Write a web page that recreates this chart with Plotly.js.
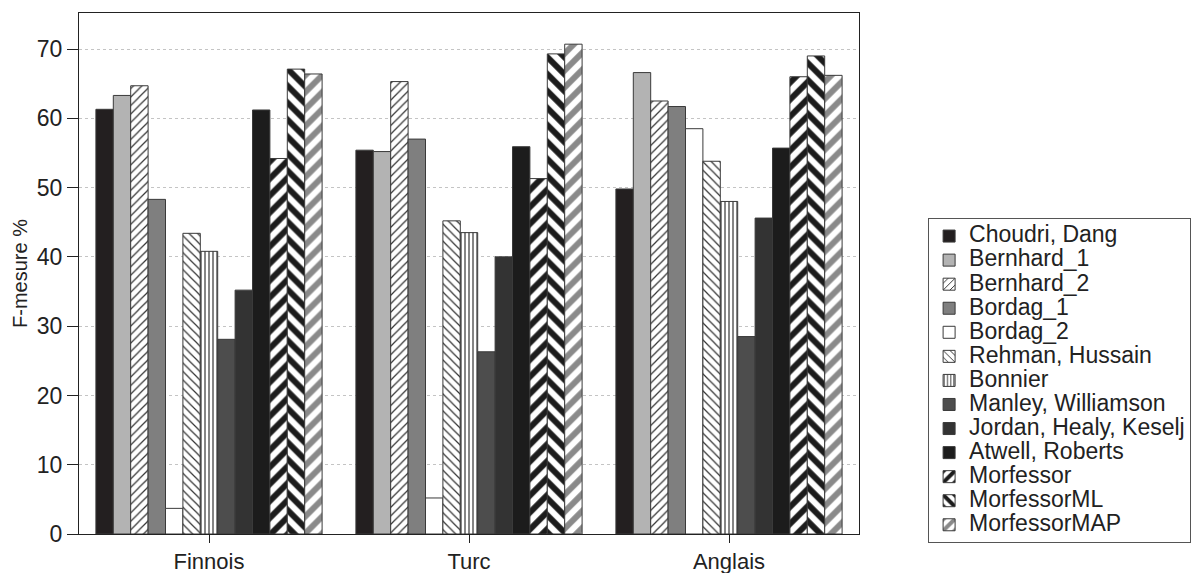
<!DOCTYPE html>
<html><head><meta charset="utf-8">
<script src="https://cdn.plot.ly/plotly-3.0.1.min.js"></script>
<style>html,body{margin:0;padding:0;background:#fff}#c{width:1196px;height:573px}</style>
</head><body><div id="c"></div>
<script>
const categories = ["Finnois", "Turc", "Anglais"];
const seriesNames = ["Choudri, Dang","Bernhard_1","Bernhard_2","Bordag_1","Bordag_2","Rehman, Hussain","Bonnier","Manley, Williamson","Jordan, Healy, Keselj","Atwell, Roberts","Morfessor","MorfessorML","MorfessorMAP"];
const choudri   = [61.3, 55.4, 49.8];
const bernhard1 = [63.3, 55.2, 66.6];
const bernhard2 = [64.7, 65.3, 62.5];
const bordag1   = [48.3, 57.0, 61.7];
const bordag2   = [3.7, 5.2, 58.5];
const rehman    = [43.4, 45.2, 53.8];
const bonnier   = [40.8, 43.5, 48.0];
const manley    = [28.1, 26.3, 28.5];
const jordan    = [35.2, 40.0, 45.6];
const atwell    = [61.2, 55.9, 55.7];
const morfessor = [54.2, 51.3, 66.0];
const morfML    = [67.1, 69.3, 69.0];
const morfMAP   = [66.4, 70.7, 66.2];
const yTicks = [0,10,20,30,40,50,60,70];

const values = [choudri,bernhard1,bernhard2,bordag1,bordag2,rehman,bonnier,manley,jordan,atwell,morfessor,morfML,morfMAP];
const styles = [
  {color:"#231f20"},
  {color:"#b3b3b3"},
  {color:"#ffffff", pattern:{shape:"/", fgcolor:"#333", size:6, solidity:0.2}},
  {color:"#7f7f7f"},
  {color:"#ffffff"},
  {color:"#ffffff", pattern:{shape:"\\", fgcolor:"#333", size:6, solidity:0.2}},
  {color:"#ffffff", pattern:{shape:"|", fgcolor:"#333", size:4, solidity:0.3}},
  {color:"#4d4d4d"},
  {color:"#333333"},
  {color:"#1c1c1c"},
  {color:"#ffffff", pattern:{shape:"/", fgcolor:"#1c1c1c", size:12, solidity:0.5}},
  {color:"#ffffff", pattern:{shape:"\\", fgcolor:"#1c1c1c", size:12, solidity:0.5}},
  {color:"#ffffff", pattern:{shape:"/", fgcolor:"#8a8a8a", size:12, solidity:0.5}}
];
const traces = seriesNames.map((n,i)=>{
  const m = {color: styles[i].color, line:{color:"#3a3a3a", width:1}};
  if (styles[i].pattern) {
    m.pattern = Object.assign({bgcolor:"#ffffff", fillmode:"replace"}, styles[i].pattern);
    m.color = styles[i].pattern.fgcolor;
  }
  return {type:"bar", name:'<span style="font-size:23px">'+n+'</span>', x:categories, y:values[i], marker:m};
});
const layout = {
  width:1196, height:573,
  margin:{l:79, r:337, t:13, b:39, autoexpand:false},
  barmode:"group", bargap:0.13, bargroupgap:0,
  paper_bgcolor:"#fff", plot_bgcolor:"#fff",
  font:{family:"Liberation Sans, Arial, sans-serif", color:"#222", size:22},
  xaxis:{showline:true, linecolor:"#222", linewidth:1, mirror:true, ticks:"outside", ticklen:8, tickcolor:"#222", tickfont:{size:22}, showgrid:false, automargin:false},
  yaxis:{range:[0,75.2], tickvals:yTicks, ticks:"outside", ticklen:11, tickcolor:"#222", showline:true, linecolor:"#222", linewidth:1, mirror:true,
         gridcolor:"#c4c4c4", griddash:"dot", gridwidth:1, zeroline:false, tickfont:{size:23}, automargin:false,
         title:{text:"F-mesure %", font:{size:20}, standoff:3}},
  showlegend:true,
  legend:{xref:"container", yref:"container", x:0.776, y:0.6195, xanchor:"left", yanchor:"top", maxheight:420, bordercolor:"#555", borderwidth:1, font:{size:16.2}, bgcolor:"#fff", itemwidth:30, tracegroupgap:0}
};
Plotly.newPlot("c", traces, layout, {displayModeBar:false, staticPlot:true});
</script></body></html>
